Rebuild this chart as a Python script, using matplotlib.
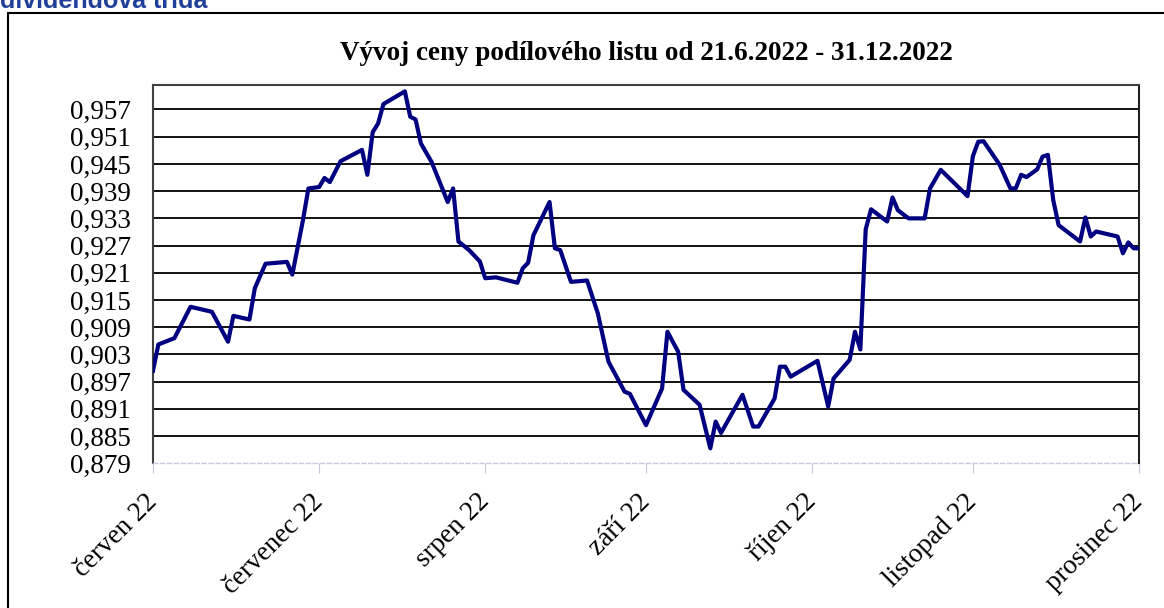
import pandas as pd
import matplotlib.pyplot as plt
from matplotlib.patches import Rectangle

# ceny podilového listu (body lomené čáry)
dates = ['2022-06-30', '2022-07-01', '2022-07-04', '2022-07-07', '2022-07-11', '2022-07-14',
         '2022-07-15', '2022-07-18', '2022-07-19', '2022-07-21', '2022-07-25', '2022-07-26',
         '2022-07-28', '2022-07-29', '2022-07-31', '2022-08-01', '2022-08-02', '2022-08-04',
         '2022-08-08', '2022-08-09', '2022-08-10', '2022-08-11', '2022-08-12', '2022-08-16',
         '2022-08-17', '2022-08-18', '2022-08-19', '2022-08-21', '2022-08-24', '2022-08-25',
         '2022-08-26', '2022-08-28', '2022-08-30', '2022-08-31', '2022-09-02', '2022-09-06',
         '2022-09-07', '2022-09-08', '2022-09-09', '2022-09-12', '2022-09-13', '2022-09-14',
         '2022-09-16', '2022-09-19', '2022-09-21', '2022-09-23', '2022-09-26', '2022-09-27',
         '2022-09-30', '2022-10-03', '2022-10-04', '2022-10-06', '2022-10-07', '2022-10-10',
         '2022-10-12', '2022-10-13', '2022-10-14', '2022-10-18', '2022-10-20', '2022-10-21',
         '2022-10-24', '2022-10-25', '2022-10-26', '2022-10-27', '2022-11-01', '2022-11-03',
         '2022-11-04', '2022-11-07', '2022-11-08', '2022-11-09', '2022-11-10', '2022-11-11',
         '2022-11-14', '2022-11-15', '2022-11-16', '2022-11-18', '2022-11-21', '2022-11-22',
         '2022-11-24', '2022-11-29', '2022-11-30', '2022-12-01', '2022-12-02', '2022-12-05',
         '2022-12-07', '2022-12-08', '2022-12-09', '2022-12-10', '2022-12-12', '2022-12-13',
         '2022-12-14', '2022-12-15', '2022-12-16', '2022-12-20', '2022-12-21', '2022-12-22',
         '2022-12-23', '2022-12-27', '2022-12-28', '2022-12-29', '2022-12-30', '2022-12-31']

prices = [0.8994, 0.9052, 0.9066, 0.9135, 0.9124, 0.9058,
          0.9115, 0.9107, 0.9176, 0.9230, 0.9234, 0.9206,
          0.9327, 0.9396, 0.9399, 0.9419, 0.9410, 0.9456,
          0.9481, 0.9426, 0.9520, 0.9539, 0.9582, 0.9610,
          0.9554, 0.9548, 0.9495, 0.9454, 0.9366, 0.9396,
          0.9279, 0.9260, 0.9235, 0.9198, 0.9200, 0.9188,
          0.9220, 0.9232, 0.9293, 0.9366, 0.9264, 0.9260,
          0.9190, 0.9193, 0.9121, 0.9014, 0.8948, 0.8943,
          0.8874, 0.8955, 0.9080, 0.9036, 0.8952, 0.8919,
          0.8823, 0.8882, 0.8857, 0.8941, 0.8871, 0.8871,
          0.8933, 0.9003, 0.9003, 0.8981, 0.9016, 0.8915,
          0.8977, 0.9018, 0.9080, 0.9041, 0.9306, 0.9350,
          0.9323, 0.9376, 0.9348, 0.9330, 0.9330, 0.9396,
          0.9437, 0.9379, 0.9467, 0.9499, 0.9500, 0.9448,
          0.9396, 0.9396, 0.9426, 0.9421, 0.9438, 0.9466,
          0.9470, 0.9370, 0.9315, 0.9279, 0.9332, 0.9290,
          0.9301, 0.9290, 0.9253, 0.9277, 0.9264, 0.9264]

tick_dates = ['2022-06-30', '2022-07-31', '2022-08-31', '2022-09-30',
              '2022-10-31', '2022-11-30', '2022-12-31']
tick_labels = ['červen 22', 'červenec 22', 'srpen 22', 'září 22',
               'říjen 22', 'listopad 22', 'prosinec 22']
y_ticks = [0.879, 0.885, 0.891, 0.897, 0.903, 0.909, 0.915,
           0.921, 0.927, 0.933, 0.939, 0.945, 0.951, 0.957]

serif = ['Liberation Serif', 'DejaVu Serif']

fig = plt.figure(figsize=(11.64, 6.08), dpi=100)
ax = fig.add_axes([153 / 1164, 1 - 463.3 / 608, (1139 - 153) / 1164, (463.3 - 85) / 608])

x = pd.to_datetime(dates)
ax.plot(x, prices, color='#000080', lw=3.0, solid_joinstyle='round', zorder=3)

ax.set_xlim(pd.Timestamp(tick_dates[0]), pd.Timestamp(tick_dates[-1]))
ax.set_ylim(0.879, 0.9624)

ax.set_yticks(y_ticks)
ax.set_yticklabels([('%.3f' % v).replace('.', ',') for v in y_ticks], family=serif, fontsize=19.5)
ax.set_xticks(pd.to_datetime(tick_dates))
ax.set_xticklabels(tick_labels, family=serif, fontsize=19.5, rotation=45,
                   ha='right', va='center', rotation_mode='anchor')

ax.tick_params(axis='y', length=0, pad=16)
ax.tick_params(axis='x', length=7, color='#c8c8d8', pad=18)

for v in y_ticks[1:]:
    ax.axhline(v, color='#111111', lw=1.4, zorder=1)

ax.spines['left'].set_color('#404040')
ax.spines['left'].set_linewidth(1.5)
ax.spines['top'].set_color('#404040')
ax.spines['top'].set_linewidth(1.5)
ax.spines['right'].set_color('#222222')
ax.spines['right'].set_linewidth(1.5)
ax.spines['bottom'].set_color('#c8c8dc')
ax.spines['bottom'].set_linestyle((0, (3, 2)))
ax.spines['bottom'].set_linewidth(1)

ax.set_title('Vývoj ceny podílového listu od 21.6.2022 - 31.12.2022',
             family=serif, fontsize=19.5, fontweight='bold', pad=18)

# rámeček kolem grafu
fig.patches.append(Rectangle((8 / 1164, -0.01), 1.05, 1 - 13 / 608 + 0.01,
                             transform=fig.transFigure, fill=False,
                             edgecolor='black', lw=1.5))

fig.text(0.0, 1 - 8 / 608, 'dividendová třída', family=['Liberation Sans', 'DejaVu Sans'],
         fontsize=18, fontweight='bold', color='#1f3f99', ha='left', va='baseline')

plt.savefig('out.png', dpi=100)
